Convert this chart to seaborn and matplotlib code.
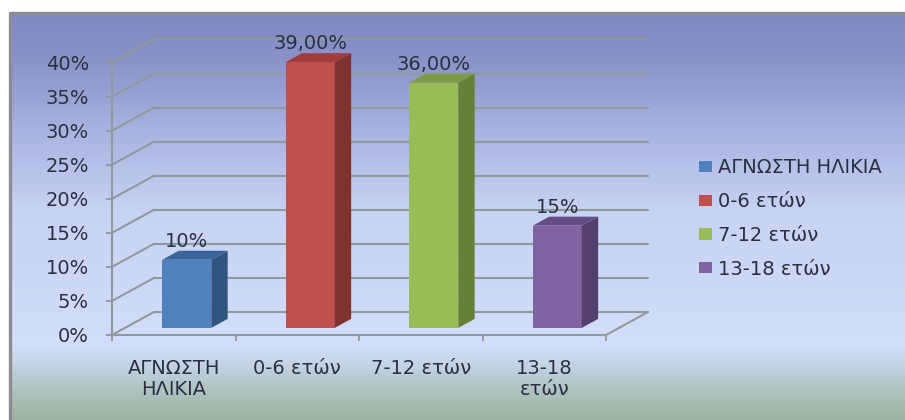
import matplotlib
matplotlib.use('Agg')
import matplotlib.pyplot as plt
import numpy as np
import pandas as pd
import seaborn as sns
from matplotlib.patches import Polygon

# chart data
categories = ['ΑΓΝΩΣΤΗ ΗΛΙΚΙΑ', '0-6 ετών', '7-12 ετών', '13-18 ετών']
tick_labels = ['ΑΓΝΩΣΤΗ\nΗΛΙΚΙΑ', '0-6 ετών', '7-12 ετών', '13-18\nετών']
values = [10, 39, 36, 15]
value_labels = ['10%', '39,00%', '36,00%', '15%']
y_ticks = [0, 5, 10, 15, 20, 25, 30, 35, 40]

# bar colours: front, side and top faces
front_colors = ['#4f81bd', '#c0504d', '#9bbb59', '#8064a2']
side_colors = ['#30557f', '#7f322f', '#66803a', '#533f6e']
top_colors = ['#3a6499', '#a03c39', '#7f9a47', '#644e85']

W, H = 905, 420
TEXT = '#2b2f42'
GRID = '#8f9a9c'
FONT_SIZE = 14

# depth of the fake 3d floor, in data units
DEPTH_X = 0.34
DEPTH_Y = 3.38
BAR_START = 0.31
BAR_DEPTH = 0.39


def draw_background(fig):
    '''
    Draws the vertical gradient panel with its grey edge
    '''
    bg = fig.add_axes([0, 0, 1, 1], zorder=0)
    bg.axis('off')
    stops = [13, 60, 130, 210, 345, 360, 390, 420]
    reds = [128, 138, 170, 200, 210, 200, 176, 160]
    greens = [136, 146, 178, 210, 222, 214, 194, 178]
    blues = [192, 200, 224, 242, 250, 232, 192, 160]
    rows = np.arange(13, H)
    grad = np.stack([np.interp(rows, stops, c) for c in (reds, greens, blues)],
                    axis=1)[:, None, :] / 255
    bg.imshow(grad, extent=(10, W, H, 13), aspect='auto')
    bg.set_xlim(0, W)
    bg.set_ylim(H, 0)
    bg.plot([10, 10, W], [H, 13, 13], color='#8c8c94', lw=2.4)


def draw_floor_and_walls(ax):
    '''
    Draws the back gridlines and the diagonals joining them to the y axis
    '''
    left, right = ax.get_xlim()
    for tick in y_ticks:
        ax.plot([left + DEPTH_X, right + DEPTH_X],
                [tick + DEPTH_Y, tick + DEPTH_Y],
                color=GRID, lw=1.5, clip_on=False, zorder=1)
        ax.plot([left, left + DEPTH_X], [tick, tick + DEPTH_Y],
                color=GRID, lw=1.5, clip_on=False, zorder=1)
    ax.plot([right, right + DEPTH_X], [0, DEPTH_Y],
            color=GRID, lw=1.5, clip_on=False, zorder=1)


def make_bars_3d(ax):
    '''
    Moves the seaborn bars back onto the floor and adds side and top faces
    '''
    dx0 = DEPTH_X * BAR_START
    dy0 = DEPTH_Y * BAR_START
    dx = DEPTH_X * BAR_DEPTH
    dy = DEPTH_Y * BAR_DEPTH
    bars = [c[0] for c in ax.containers]
    for i, bar in enumerate(bars):
        bar.set_x(bar.get_x() + dx0)
        bar.set_y(dy0)
        x0 = bar.get_x()
        x1 = x0 + bar.get_width()
        y0 = dy0
        y1 = dy0 + bar.get_height()
        ax.add_patch(Polygon([(x1, y0), (x1 + dx, y0 + dy),
                              (x1 + dx, y1 + dy), (x1, y1)],
                             fc=side_colors[i], ec='none', zorder=3,
                             clip_on=False))
        ax.add_patch(Polygon([(x0, y1), (x1, y1),
                              (x1 + dx, y1 + dy), (x0 + dx, y1 + dy)],
                             fc=top_colors[i], ec='none', zorder=3,
                             clip_on=False))
        ax.annotate(value_labels[i], (x0 + bar.get_width() / 2, y1),
                    xytext=(0, 13.3), textcoords='offset points',
                    ha='center', va='center', color=TEXT, fontsize=FONT_SIZE,
                    zorder=5, annotation_clip=False)


def main():
    sns.set_theme(style='white')
    plt.rcParams['font.family'] = ['DejaVu Sans']

    fig = plt.figure(figsize=(W / 100, H / 100), dpi=100, facecolor='white')
    draw_background(fig)

    ax = fig.add_axes([112 / W, (H - 335) / H, 494 / W, 272.5 / H], zorder=1)
    ax.patch.set_alpha(0)

    df = pd.DataFrame({'group': categories, 'value': values})
    sns.barplot(data=df, x='group', y='value', hue='group',
                palette=front_colors, order=categories,
                hue_order=categories, width=0.397, dodge=False,
                saturation=1, legend=True, ax=ax, zorder=2, linewidth=0)

    ax.set_xlim(-0.5, 3.5)
    ax.set_ylim(0, 40)
    ax.set_xlabel('')
    ax.set_ylabel('')

    draw_floor_and_walls(ax)
    make_bars_3d(ax)

    sns.despine(ax=ax)
    ax.spines['left'].set_color(GRID)
    ax.spines['bottom'].set_color(GRID)
    ax.spines['left'].set_linewidth(1.5)
    ax.spines['bottom'].set_linewidth(1.5)

    ax.set_yticks(y_ticks)
    ax.set_yticklabels([f'{t}%' for t in y_ticks])
    ax.tick_params(axis='y', left=True, length=4.5, width=1.3, color=GRID,
                   pad=12, labelsize=FONT_SIZE, labelcolor=TEXT)

    # x ticks sit between the categories
    ax.set_xticks(np.arange(-0.5, 4), minor=True)
    ax.set_xticks(range(len(tick_labels)))
    ax.set_xticklabels(tick_labels, linespacing=1.1)
    ax.tick_params(axis='x', which='minor', bottom=True, length=4.5,
                   width=1.3, color=GRID)
    ax.tick_params(axis='x', which='major', bottom=False, pad=11.5,
                   labelsize=FONT_SIZE, labelcolor=TEXT)

    handles, labels = ax.get_legend_handles_labels()
    ax.legend(handles, labels, loc='center left', frameon=False,
              bbox_to_anchor=(699 / W, (H - 218.5) / H),
              bbox_transform=fig.transFigure, fontsize=FONT_SIZE,
              labelcolor=TEXT, handlelength=0.67, handleheight=0.5,
              handletextpad=0.31, labelspacing=0.76, borderpad=0,
              borderaxespad=0)

    fig.savefig('out.png', dpi=100)


if __name__ == '__main__':
    main()
